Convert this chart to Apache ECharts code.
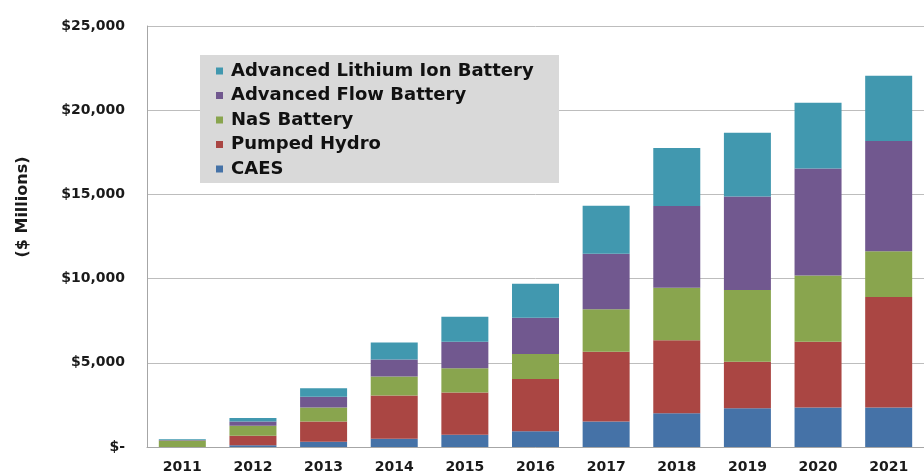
<!DOCTYPE html>
<html>
<head>
<meta charset="utf-8">
<script src="https://cdn.jsdelivr.net/npm/echarts@6/dist/echarts.min.js"></script>
<style>
html,body{margin:0;padding:0;background:#fff;}
#chart{width:924px;height:474px;}
</style>
</head>
<body>
<div id="chart"></div>
<script>
const years = ['2011','2012','2013','2014','2015','2016','2017','2018','2019','2020','2021'];
const caes    = [0, 100, 310, 490, 730, 930, 1520, 2010, 2300, 2350, 2350];
const pumped  = [0, 570, 1210, 2570, 2500, 3110, 4140, 4330, 2760, 3900, 6560];
const nas     = [390, 590, 830, 1120, 1440, 1480, 2520, 3110, 4260, 3940, 2720];
const flow    = [20, 260, 630, 1010, 1580, 2150, 3290, 4860, 5560, 6350, 6540];
const lithium = [50, 200, 510, 1020, 1480, 2030, 2850, 3450, 3780, 3900, 3880];
const seriesNames = ['CAES','Pumped Hydro','NaS Battery','Advanced Flow Battery','Advanced Lithium Ion Battery'];
const seriesColors = ['#4572A7','#AA4643','#89A54E','#71588F','#4198AF'];
const seriesData = [caes, pumped, nas, flow, lithium];
const yAxisTitle = '($ Millions)';

const font = 'DejaVu Sans';
const chart = echarts.init(document.getElementById('chart'), null, {renderer:'canvas'});
chart.setOption({
  animation:false,
  backgroundColor:'#ffffff',
  grid:{left:147, top:26, width:792, height:423.5, containLabel:false},
  xAxis:{
    type:'category', data:years,
    axisLine:{show:true, lineStyle:{color:'#A6A6A6', width:1}},
    axisTick:{show:false},
    axisLabel:{margin:13, color:'#1a1a1a', fontFamily:font, fontWeight:'bold', fontSize:14},
    splitLine:{show:false}
  },
  yAxis:{
    type:'value', min:0, max:25000, interval:5000,
    axisLine:{show:true, lineStyle:{color:'#A6A6A6', width:1}},
    axisTick:{show:false},
    axisLabel:{margin:22, color:'#1a1a1a', fontFamily:font, fontWeight:'bold', fontSize:14,
      formatter:function(v){ return v===0 ? '$-' : '$' + v.toLocaleString('en-US'); }},
    splitLine:{show:true, lineStyle:{color:'#BDBDBD', width:1}}
  },
  legend:{
    orient:'vertical', left:211, top:57, z:20,
    data:seriesNames.slice().reverse(),
    icon:'rect', itemWidth:7, itemHeight:7, itemGap:6.5,
    textStyle:{fontFamily:font, fontWeight:'bold', fontSize:18, lineHeight:18, color:'#111', padding:[0,0,0,3]}
  },
  graphic:[
    {type:'rect', z:10, left:200, top:55, shape:{width:359, height:128}, style:{fill:'#D9D9D9'}},
    {type:'text', z:10, x:23, y:207, rotation:Math.PI/2,
      style:{text:yAxisTitle, fontFamily:font, fontWeight:'bold', fontSize:16, fill:'#1a1a1a', align:'center', verticalAlign:'middle'}}
  ],
  series: seriesNames.map(function(n,i){
    return {name:n, type:'bar', stack:'total', barWidth:47, data:seriesData[i],
      itemStyle:{color:seriesColors[i]}, emphasis:{disabled:true}};
  })
});
</script>
</body>
</html>
